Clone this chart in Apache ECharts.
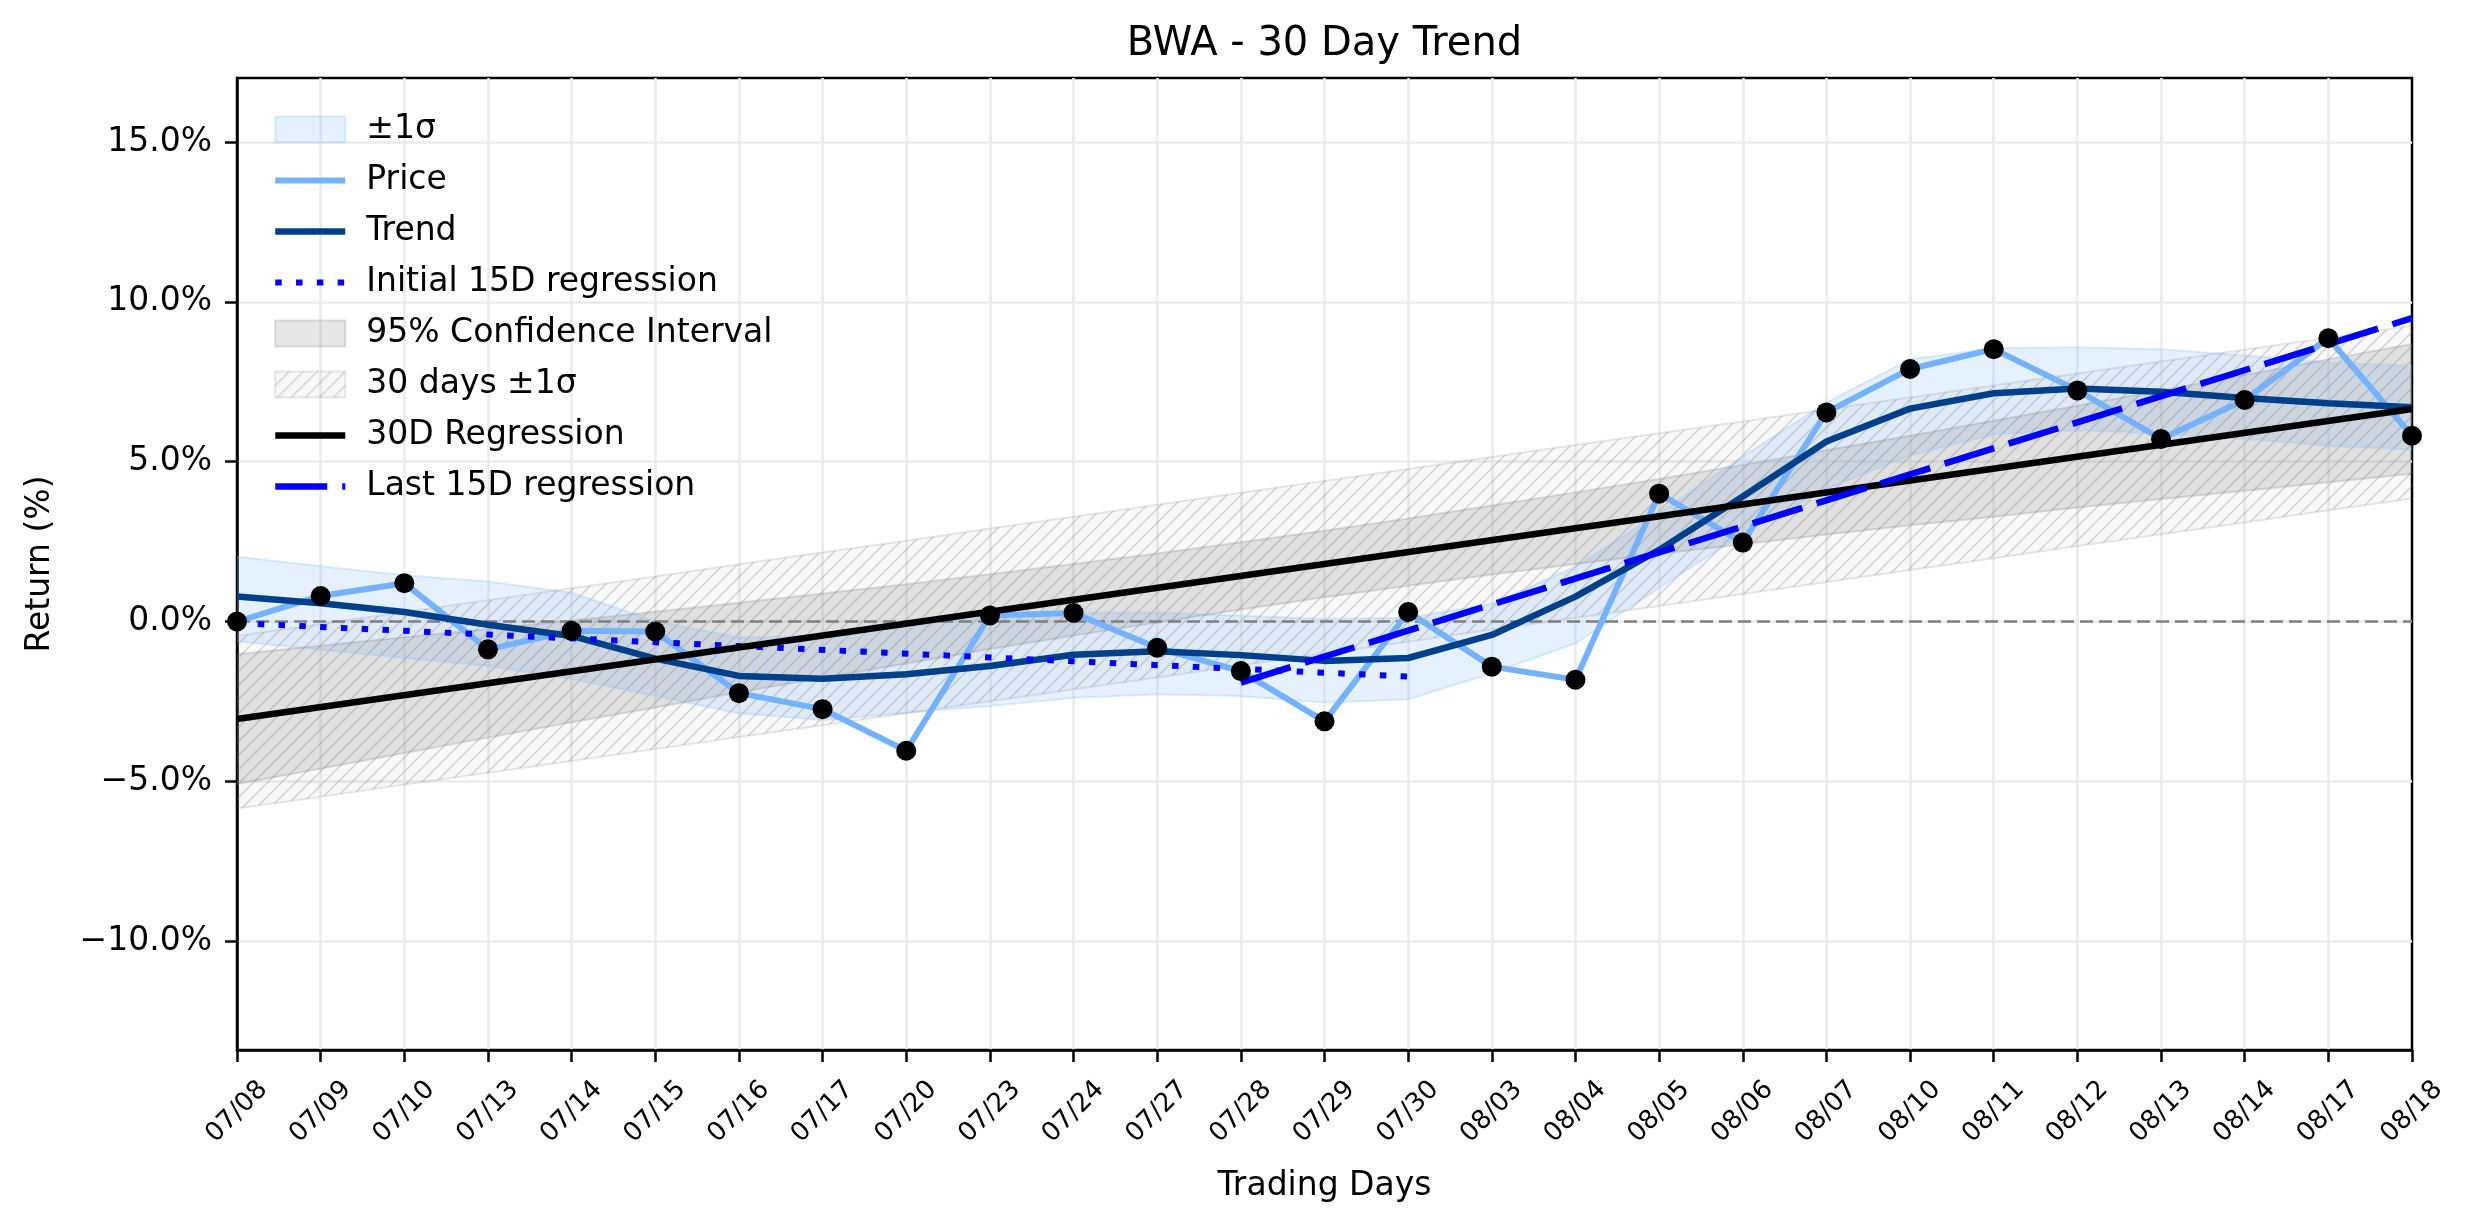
<!DOCTYPE html>
<html lang="en">
<head>
  <meta charset="UTF-8">
  <title>BWA - 30 Day Trend</title>
  <script src="https://cdn.jsdelivr.net/npm/echarts@6.0.0/dist/echarts.min.js"></script>
  <style>
    html, body {
      margin: 0;
      padding: 0;
      background: #fff;
    }

    .box {
      width: 2474px;
      height: 1224px;
    }
  </style>
</head>
<body>
<div class="box"></div>

<script>
  // trading days on the x axis
  var days = ['07/08', '07/09', '07/10', '07/13', '07/14', '07/15', '07/16', '07/17', '07/20',
    '07/23', '07/24', '07/27', '07/28', '07/29', '07/30', '08/03', '08/04', '08/05', '08/06',
    '08/07', '08/10', '08/11', '08/12', '08/13', '08/14', '08/17', '08/18'];

  // cumulative return (%) of each day
  var price = [0.00, 0.80, 1.20, -0.87, -0.29, -0.31, -2.24, -2.74, -4.04, 0.19, 0.27, -0.82,
    -1.55, -3.12, 0.30, -1.41, -1.82, 4.00, 2.47, 6.54, 7.90, 8.52, 7.23, 5.71, 6.93, 8.86, 5.81];

  // smoothed trend and its +-1 sigma band
  var trend = [0.78, 0.57, 0.30, -0.10, -0.45, -1.16, -1.70, -1.79, -1.65, -1.39, -1.04, -0.93,
    -1.05, -1.23, -1.14, -0.42, 0.78, 2.24, 3.91, 5.63, 6.66, 7.14, 7.29, 7.19, 6.99, 6.83, 6.70];
  var sigmaUpper = [2.03, 1.73, 1.45, 1.25, 0.90, 0.02, -0.50, -0.45, -0.15, 0.15, 0.28, 0.28,
    0.18, 0.08, 0.12, 0.55, 1.72, 3.39, 5.16, 6.85, 8.20, 8.55, 8.58, 8.52, 8.32, 8.10, 8.00];
  var sigmaLower = [-0.62, -0.88, -1.14, -1.39, -1.80, -2.33, -2.87, -3.08, -2.85, -2.64, -2.38, -2.27,
    -2.33, -2.53, -2.43, -1.62, -0.68, 1.05, 2.74, 4.15, 5.20, 5.85, 5.98, 5.88, 5.72, 5.50, 5.38];

  // 95% confidence interval of the 30D regression
  var ciUpper = [-1.02, -0.76, -0.49, -0.23, 0.03, 0.31, 0.59, 0.88, 1.17, 1.48, 1.80, 2.13,
    2.48, 2.84, 3.22, 3.63, 4.04, 4.46, 4.90, 5.36, 5.81, 6.28, 6.75, 7.23, 7.71, 8.20, 8.68];
  var ciLower = [-5.08, -4.60, -4.11, -3.63, -3.15, -2.69, -2.21, -1.76, -1.31, -0.86, -0.44, -0.03,
    0.38, 0.76, 1.12, 1.47, 1.80, 2.12, 2.42, 2.72, 3.01, 3.28, 3.57, 3.83, 4.09, 4.36, 4.62];

  // 30 days +-1 sigma around the regression
  var band30Upper = [-0.45, -0.08, 0.30, 0.67, 1.04, 1.41, 1.79, 2.16, 2.53, 2.91, 3.28, 3.65,
    4.03, 4.40, 4.77, 5.15, 5.52, 5.89, 6.26, 6.64, 7.01, 7.38, 7.76, 8.13, 8.50, 8.88, 9.25];
  var band30Lower = [-5.85, -5.48, -5.10, -4.73, -4.36, -3.99, -3.61, -3.24, -2.87, -2.49, -2.12, -1.75,
    -1.37, -1.00, -0.63, -0.25, 0.12, 0.49, 0.86, 1.24, 1.61, 1.98, 2.36, 2.73, 3.10, 3.48, 3.85];

  // regression lines, [day, value] at both ends
  var reg30 = [['07/08', -3.05], ['08/18', 6.65]];
  var regFirst15 = [['07/08', -0.05], ['07/30', -1.72]];
  var regLast15 = [['07/28', -1.91], ['08/18', 9.49]];
  var zeroLine = [['07/08', 0], ['08/18', 0]];

  var yTicks = [-10, -5, 0, 5, 10, 15];

  var FONT = 'DejaVu Sans';
  var gridColor = '#ebebeb';
  var sigmaFill = 'rgba(150, 200, 255, 0.25)';
  var sigmaEdge = 'rgba(150, 200, 255, 0.35)';
  var ciFill = 'rgba(128, 128, 128, 0.2)';
  var ciEdge = 'rgba(128, 128, 128, 0.25)';
  var hatchEdge = 'rgba(128, 128, 128, 0.18)';

  function hatchPattern() {
    var c = document.createElement('canvas');
    c.width = 14;
    c.height = 14;
    var ctx = c.getContext('2d');
    ctx.fillStyle = 'rgba(128, 128, 128, 0.06)';
    ctx.fillRect(0, 0, 14, 14);
    ctx.strokeStyle = 'rgba(110, 110, 110, 0.28)';
    ctx.lineWidth = 1.5;
    ctx.beginPath();
    ctx.moveTo(-2, 16); ctx.lineTo(16, -2);
    ctx.moveTo(-9, 9); ctx.lineTo(9, -9);
    ctx.moveTo(5, 23); ctx.lineTo(23, 5);
    ctx.stroke();
    return c;
  }
  var hatchFill = { image: hatchPattern(), repeat: 'repeat' };

  // a filled band = lower edge line + stacked (upper - lower) with area
  function bandSeries(name, lower, upper, fill, edge) {
    var widths = upper.map(function (v, i) {
      return +(v - lower[i]).toFixed(2);
    });
    return [{
      name: name + ' (lower)',
      type: 'line',
      stack: name,
      stackStrategy: 'all',
      data: lower,
      symbol: 'none',
      silent: true,
      z: 1,
      lineStyle: { color: edge, width: 2 }
    }, {
      name: name,
      type: 'line',
      stack: name,
      stackStrategy: 'all',
      data: widths,
      symbol: 'none',
      silent: true,
      z: 1,
      itemStyle: { color: edge },
      lineStyle: { color: edge, width: 2 },
      areaStyle: { color: fill, opacity: 1 }
    }];
  }

  function lineSeries(name, data, color, width, type, z) {
    return {
      name: name,
      type: 'line',
      data: data,
      symbol: 'none',
      silent: true,
      z: z || 3,
      itemStyle: { color: color },
      lineStyle: { color: color, width: width, type: type || 'solid', cap: 'butt' }
    };
  }

  var box = document.getElementsByClassName('box')[0];
  var chart = echarts.init(box, null, { renderer: 'canvas' });

  var series = []
    .concat(bandSeries('±1σ', sigmaLower, sigmaUpper, sigmaFill, sigmaEdge))
    .concat(bandSeries('95% Confidence Interval', ciLower, ciUpper, ciFill, ciEdge))
    .concat(bandSeries('30 days ±1σ', band30Lower, band30Upper, hatchFill, hatchEdge))
    .concat([
      lineSeries('zero', zeroLine, '#808080', 2.5, [13, 6], 2),
      lineSeries('Price', price, '#75b2fd', 6),
      lineSeries('Trend', trend, '#003f8a', 6.5),
      lineSeries('Initial 15D regression', regFirst15, '#0000ff', 6, [6.5, 14.3]),
      lineSeries('30D Regression', reg30, '#000000', 6.5),
      lineSeries('Last 15D regression', regLast15, '#0000ff', 6.5, [52, 15]),
      {
        name: 'points',
        type: 'scatter',
        data: price,
        symbol: 'circle',
        symbolSize: 20,
        silent: true,
        z: 5,
        itemStyle: { color: '#000', opacity: 1 }
      }
    ]);

  var option = {
    animation: false,
    backgroundColor: '#fff',
    textStyle: { fontFamily: FONT },
    graphic: [{
      type: 'text',
      x: 1324.5,
      y: 45,
      style: {
        text: 'BWA - 30 Day Trend',
        fontSize: 40,
        fontFamily: FONT,
        fill: '#000',
        align: 'center',
        verticalAlign: 'middle'
      }
    }],
    legend: {
      orient: 'vertical',
      left: 267,
      top: 108,
      itemWidth: 70,
      itemHeight: 26,
      itemGap: 18,
      selectedMode: false,
      formatter: function (name) {
        return '{t|' + name + '}';
      },
      textStyle: {
        color: '#000',
        fontFamily: FONT,
        fontSize: 33,
        rich: {
          t: { color: '#000', fontFamily: FONT, fontSize: 33, padding: [0, 0, 0, 16] }
        }
      },
      data: [
        { name: '±1σ', icon: 'rect', itemStyle: { color: sigmaFill, borderColor: sigmaEdge, borderWidth: 2 } },
        { name: 'Price', itemStyle: { opacity: 0 }, lineStyle: { width: 6 } },
        { name: 'Trend', itemStyle: { opacity: 0 }, lineStyle: { width: 6.5 } },
        { name: 'Initial 15D regression', itemStyle: { opacity: 0 }, lineStyle: { width: 6 } },
        { name: '95% Confidence Interval', icon: 'rect', itemStyle: { color: ciFill, borderColor: ciEdge, borderWidth: 2 } },
        { name: '30 days ±1σ', icon: 'rect', itemStyle: { color: hatchFill, borderColor: hatchEdge, borderWidth: 2 } },
        { name: '30D Regression', itemStyle: { opacity: 0 }, lineStyle: { width: 6.5 } },
        { name: 'Last 15D regression', itemStyle: { opacity: 0 }, lineStyle: { width: 6.5 } }
      ]
    },
    grid: {
      left: 237,
      right: 62,
      top: 78,
      bottom: 174,
      show: true,
      borderColor: '#000',
      borderWidth: 2.5,
      backgroundColor: 'transparent',
      containLabel: false,
      outerBoundsMode: 'none'
    },
    xAxis: {
      type: 'category',
      data: days,
      boundaryGap: false,
      name: 'Trading Days',
      nameLocation: 'middle',
      nameGap: 120,
      nameTextStyle: { color: '#000', fontFamily: FONT, fontSize: 33 },
      axisLine: { show: true, onZero: false, lineStyle: { color: '#000', width: 2.5 } },
      axisTick: { show: true, interval: 0, length: 12, lineStyle: { color: '#000', width: 2.5 } },
      axisLabel: {
        interval: 0,
        rotate: 45,
        align: 'center',
        verticalAlign: 'middle',
        margin: 62,
        color: '#000',
        fontFamily: FONT,
        fontSize: 26
      },
      splitLine: {
        show: true,
        // the last one would cover the right frame
        interval: function (index) {
          return index > 0 && index < days.length - 1;
        },
        lineStyle: { color: gridColor, width: 2.5 }
      }
    },
    yAxis: {
      type: 'value',
      min: -13.4,
      max: 17.0,
      name: 'Return (%)',
      nameLocation: 'middle',
      nameGap: 180,
      nameTextStyle: { color: '#000', fontFamily: FONT, fontSize: 33 },
      axisLine: { show: true, lineStyle: { color: '#000', width: 2.5 } },
      axisTick: { show: true, length: 12, customValues: yTicks, lineStyle: { color: '#000', width: 2.5 } },
      axisLabel: {
        customValues: yTicks,
        margin: 25,
        color: '#000',
        fontFamily: FONT,
        fontSize: 33,
        formatter: function (v) {
          var s = Math.abs(v).toFixed(1) + '%';
          return v < 0 ? '\u2212' + s : s;
        }
      },
      splitLine: { show: true, lineStyle: { color: gridColor, width: 2.5 } }
    },
    series: series
  };

  chart.setOption(option);
</script>
</body>
</html>
